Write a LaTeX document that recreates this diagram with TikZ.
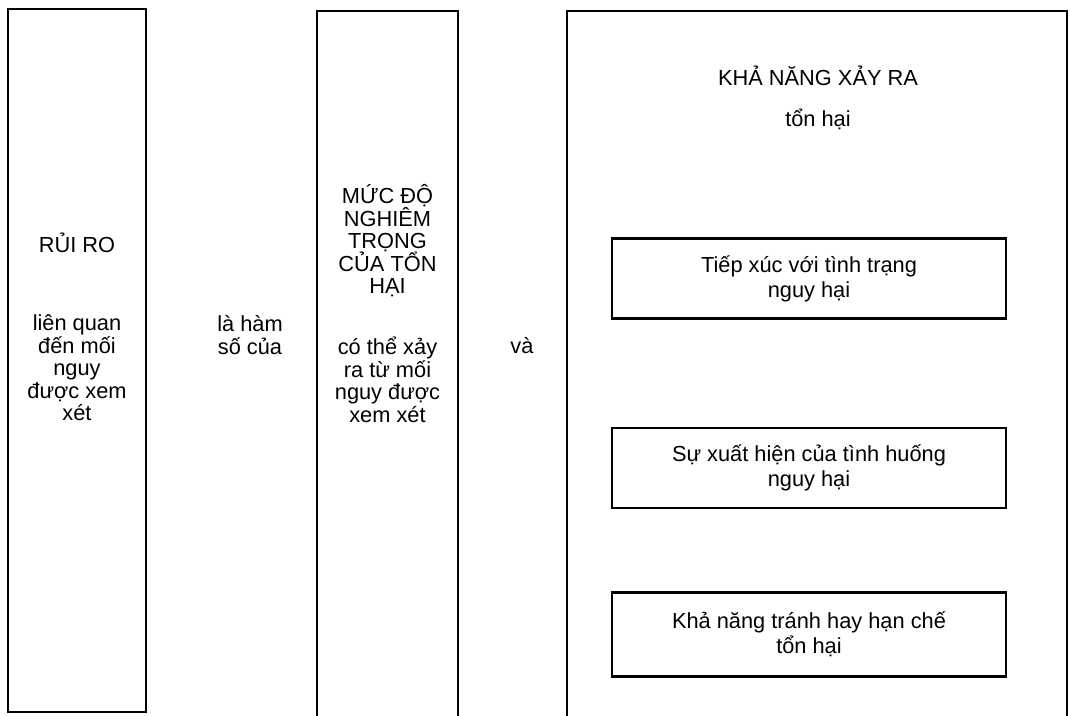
\documentclass[tikz,border=0pt]{standalone}
\usepackage{fontspec}
\setmainfont{Liberation Sans}
\usetikzlibrary{positioning}
\newcommand{\tightlines}{\lineskiplimit=-50pt\relax}
\tikzset{
    col_box/.style={
        rectangle,
        draw=black,
        line width=2.6pt,
        inner sep=0pt
    },
    col_text/.style={
        align=center,
        inner sep=0pt,
        font=\fontsize{21.8}{22.5}\selectfont\tightlines
    },
    factor_box/.style={
        rectangle,
        draw=black,
        line width=2.6pt,
        minimum width=394pt,
        minimum height=80pt,
        align=center,
        font=\fontsize{21.8}{25}\selectfont\tightlines
    }
}

\begin{document}
\begin{tikzpicture}[x=1pt, y=-1pt]

\clip (0,0) rectangle (1070,715);

% --- Columns ---
\node[col_box, minimum width=138pt, minimum height=703pt] (risk_box) at (77,360.5) {};
\node[col_box, minimum width=141pt, minimum height=730pt] (severity_box) at (387.5,376) {};
\node[col_box, minimum width=500pt, minimum height=730pt] (likelihood_box) at (817,376) {};

% --- Column texts ---
\node[col_text] (risk_title) at (77,243) {RỦI RO};
\node[col_text] (risk_desc) at (77,368) {liên quan\\đến mối\\nguy\\được xem\\xét};
\node[col_text] (function_of) at (250,335) {là hàm\\số của};
\node[col_text] (severity_title) at (387.5,241) {MỨC ĐỘ\\NGHIÊM\\TRỌNG\\CỦA TỔN\\HẠI};
\node[col_text] (severity_desc) at (387.5,380) {có thể xảy\\ra từ mối\\nguy được\\xem xét};
\node[col_text] (and_word) at (522,346) {và};
\node[col_text] (likelihood_title) at (818,76) {KHẢ NĂNG XẢY RA};
\node[col_text] (likelihood_sub) at (818,119) {tổn hại};

% --- Likelihood factors ---
\node[factor_box] (exposure) at (809,278.5) {Tiếp xúc với tình trạng\\nguy hại};
\node[factor_box, below=107pt of exposure] (occurrence) {Sự xuất hiện của tình huống\\nguy hại};
\node[factor_box, minimum height=84pt, below=82pt of occurrence] (avoidance) {Khả năng tránh hay hạn chế\\tổn hại};

\end{tikzpicture}
\end{document}
